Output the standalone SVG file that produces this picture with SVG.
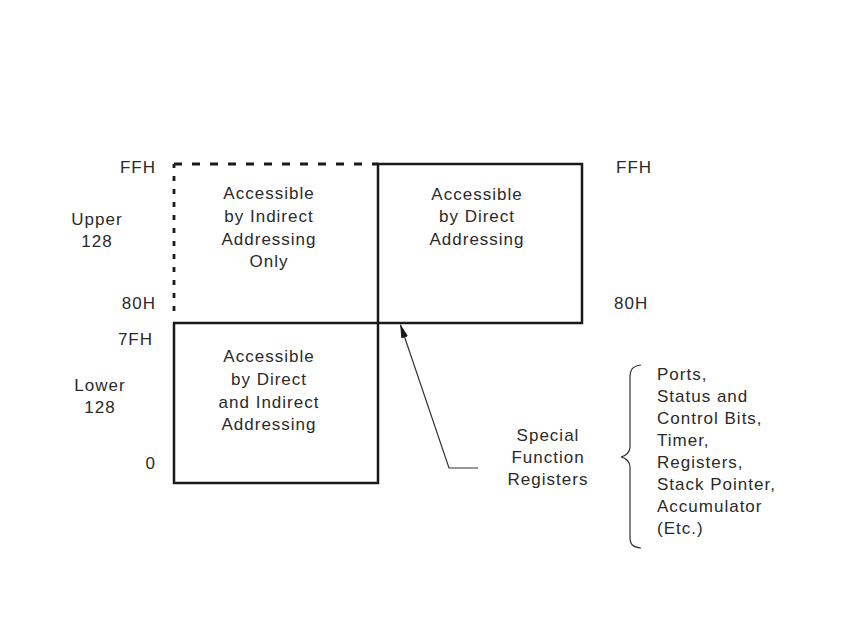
<svg xmlns="http://www.w3.org/2000/svg" width="850" height="638" viewBox="0 0 850 638">
<defs>
<style>
text{font-family:"Liberation Sans",Arial,sans-serif;font-size:17px;letter-spacing:1px;fill:#2a2a2a}
.c{text-anchor:middle}
.r{text-anchor:end}
.box{fill:none;stroke:#1a1a1a;stroke-width:2.5}
.dash{fill:none;stroke:#1a1a1a;stroke-width:2.8}
.thin{fill:none;stroke:#333;stroke-width:1.2}
</style>
<marker id="ah" viewBox="0 0 14 8" refX="13" refY="4" markerWidth="14" markerHeight="8" markerUnits="userSpaceOnUse" orient="auto">
<path d="M0,0.5 L14,4 L0,7.5 Z" fill="#1a1a1a"/>
</marker>
</defs>
<rect width="850" height="638" fill="#fff"/>
<g id="axis-labels">
<text class="r" x="156" y="173">FFH</text>
<text class="r" x="156" y="309">80H</text>
<text class="r" x="153" y="345">7FH</text>
<text class="r" x="156" y="469">0</text>
<text class="c" x="97" y="225">Upper</text>
<text class="c" x="97" y="247">128</text>
<text class="c" x="100" y="391">Lower</text>
<text class="c" x="100" y="413">128</text>
<text x="616" y="173">FFH</text>
<text x="614" y="309">80H</text>
</g>
<g id="upper-indirect">
<path class="dash" d="M174,311 V164" stroke-dasharray="5,8"/>
<path class="dash" d="M174,164 H378" stroke-dasharray="8,10"/>
<text class="c" x="269" y="199">Accessible</text>
<text class="c" x="269" y="222">by Indirect</text>
<text class="c" x="269" y="245">Addressing</text>
<text class="c" x="269" y="267">Only</text>
</g>
<g id="upper-direct">
<rect class="box" x="378" y="164" width="204" height="159"/>
<text class="c" x="477" y="200">Accessible</text>
<text class="c" x="477" y="222">by  Direct</text>
<text class="c" x="477" y="245">Addressing</text>
</g>
<g id="lower">
<rect class="box" x="174" y="323" width="204" height="160"/>
<text class="c" x="269" y="362">Accessible</text>
<text class="c" x="269" y="385">by  Direct</text>
<text class="c" x="269" y="408">and Indirect</text>
<text class="c" x="269" y="430">Addressing</text>
</g>
<g id="sfr">
<text class="c" x="548" y="441">Special</text>
<text class="c" x="548" y="463">Function</text>
<text class="c" x="548" y="485">Registers</text>
</g>
<g id="sfr-list">
<path class="thin" d="M641,365 C632,366 630,370 630,378 V447 C630,452 626,456 621,457 C626,458 630,462 630,467 V537 C630,544 632,547 641,548" stroke-width="1.4"/>
<text x="657" y="380">Ports,</text>
<text x="657" y="402">Status and</text>
<text x="657" y="424">Control Bits,</text>
<text x="657" y="446">Timer,</text>
<text x="657" y="468">Registers,</text>
<text x="657" y="490">Stack Pointer,</text>
<text x="657" y="512">Accumulator</text>
<text x="657" y="534">(Etc.)</text>
</g>
<g id="connectors">
<path class="thin" d="M478,468 H449 L400.5,325" marker-end="url(#ah)"/>
</g>
</svg>
